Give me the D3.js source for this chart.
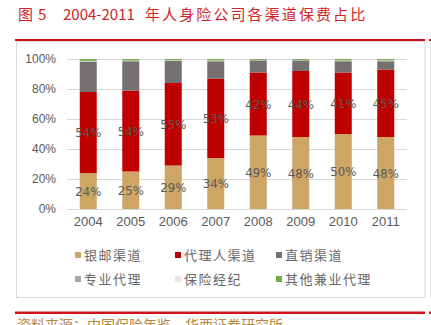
<!DOCTYPE html>
<html>
<head>
<meta charset="utf-8">
<script src="https://cdn.jsdelivr.net/npm/d3@7"></script>
<style>
  html, body { margin: 0; padding: 0; background: #fff; }
  svg { display: block; }
</style>
</head>
<body>
<svg id="chart" width="431" height="325"></svg>
<script>
// Years on the x axis
const years = ["2004", "2005", "2006", "2007", "2008", "2009", "2010", "2011"];

// Premium share by channel (%), one array per channel
const bankPost   = [24, 25, 29, 34, 49, 48, 50, 48];          // 银邮渠道
const agents     = [54, 54, 55, 53, 42, 44, 41, 45];          // 代理人渠道
const direct     = [20, 19.5, 14.7, 11.5, 8, 6.9, 7.5, 5.5];  // 直销渠道
const proAgency  = [0.5, 0.3, 0.3, 0.5, 0.3, 0.4, 0.4, 0.5];  // 专业代理
const brokers    = [0.3, 0.2, 0.2, 0.2, 0.1, 0.1, 0.2, 0.2];  // 保险经纪
const otherAgcy  = [1.2, 1.0, 0.8, 0.8, 0.6, 0.6, 0.9, 0.8];  // 其他兼业代理

const seriesNames = ["银邮渠道", "代理人渠道", "直销渠道", "专业代理", "保险经纪", "其他兼业代理"];
const seriesColors = ["#CDA564", "#C00000", "#767171", "#A6A6A6", "#E7E6E6", "#70AD47"];
const yTicks = [0, 0.2, 0.4, 0.6, 0.8, 1.0];

const seriesValues = [bankPost, agents, direct, proAgency, brokers, otherAgcy];
const rows = years.map((y, i) => {
  const r = { year: y };
  seriesNames.forEach((n, k) => { r[n] = seriesValues[k][i] / 100; });
  return r;
});

const svg = d3.select("#chart");

// Title
const title = svg.append("text")
  .attr("y", 20)
  .attr("fill", "#D2232A")
  .style("font-family", "'Noto Sans CJK SC', 'Noto Sans', sans-serif")
  .style("font-size", "15px");
title.append("tspan").attr("x", 18).text("图");
title.append("tspan").attr("x", 38).text("5");
title.append("tspan").attr("x", 63).text("2004-2011");
title.append("tspan").attr("x", 145).style("letter-spacing", "2.1px").text("年人身险公司各渠道保费占比");

// Frame around the chart area
svg.append("rect")
  .attr("x", 16.5).attr("y", 41.5)
  .attr("width", 408.5).attr("height", 256)
  .attr("fill", "#fff").attr("stroke", "#D9D9D9").attr("stroke-width", 1);
svg.append("line")
  .attr("x1", 430.5).attr("x2", 430.5).attr("y1", 41).attr("y2", 298)
  .attr("stroke", "#E6E6E6");

// Red rules above and below
[[40, 2], [312.8, 2.6]].forEach(([y, w]) => {
  svg.append("line").attr("x1", 15).attr("x2", 425).attr("y1", y).attr("y2", y)
    .attr("stroke", "#D0121B").attr("stroke-width", w);
  svg.append("line").attr("x1", 429).attr("x2", 431).attr("y1", y).attr("y2", y)
    .attr("stroke", "#D0121B").attr("stroke-width", w);
});

// Scales
const x = d3.scaleBand().domain(years).range([67, 407]).paddingInner(0.6).paddingOuter(0.3);
const y = d3.scaleLinear().domain([0, 1]).range([209, 59]);

// Gridlines
svg.append("g").selectAll("line").data(yTicks).join("line")
  .attr("x1", 67).attr("x2", 407)
  .attr("y1", d => Math.round(y(d)) + 0.5).attr("y2", d => Math.round(y(d)) + 0.5)
  .attr("stroke", "#D9D9D9").attr("stroke-width", 1);

// Y axis labels
const yAxis = d3.axisLeft(y).tickValues(yTicks).tickFormat(d3.format(".0%")).tickSize(0).tickPadding(0);
const gy = svg.append("g").attr("transform", "translate(56,0)").call(yAxis);
gy.select(".domain").remove();
gy.selectAll("text")
  .attr("fill", "#595959")
  .style("font-family", "'Liberation Sans', Arial, sans-serif")
  .style("font-size", "12px");

// X axis labels
const xAxis = d3.axisBottom(x).tickSize(0).tickPadding(0);
const gx = svg.append("g").attr("transform", "translate(0,217)").call(xAxis);
gx.select(".domain").remove();
gx.selectAll("text")
  .attr("fill", "#595959")
  .style("font-family", "'Liberation Sans', Arial, sans-serif")
  .style("font-size", "13px");

// Stacked bars
const stack = d3.stack().keys(seriesNames);
const stacked = stack(rows);
const color = d3.scaleOrdinal().domain(seriesNames).range(seriesColors);

svg.append("g").selectAll("g").data(stacked).join("g")
  .attr("fill", d => color(d.key))
  .selectAll("rect").data(d => d).join("rect")
  .attr("x", d => x(d.data.year))
  .attr("width", x.bandwidth())
  .attr("y", d => y(d[1]))
  .attr("height", d => y(d[0]) - y(d[1]));

// Value labels on the two largest channels
const labelled = stacked.slice(0, 2);
svg.append("g").selectAll("g").data(labelled).join("g")
  .selectAll("text").data(d => d).join("text")
  .attr("x", d => x(d.data.year) + x.bandwidth() / 2)
  .attr("y", d => (y(d[0]) + y(d[1])) / 2)
  .attr("dy", "0.36em")
  .attr("text-anchor", "middle")
  .attr("fill", "#595959")
  .style("font-family", "'Liberation Sans Narrow', 'DejaVu Sans Condensed', sans-serif")
  .style("font-size", "13px")
  .text(d => Math.round((d[1] - d[0]) * 100) + "%");

// Legend
const legendPos = [[75, 255], [175, 255], [276, 255], [75, 279], [175, 279], [276, 279]];
const legend = svg.append("g").selectAll("g").data(seriesNames).join("g")
  .attr("transform", (d, i) => `translate(${legendPos[i][0]},${legendPos[i][1]})`);
legend.append("rect")
  .attr("x", 0).attr("y", -3).attr("width", 6).attr("height", 6)
  .attr("fill", d => color(d));
legend.append("text")
  .attr("x", 9).attr("dy", "0.36em")
  .attr("fill", "#666666")
  .style("font-family", "'Noto Sans CJK SC', sans-serif")
  .style("font-size", "13px")
  .style("letter-spacing", "1.5px")
  .text(d => d);

// Source note
svg.append("text")
  .attr("x", 17).attr("y", 330)
  .attr("fill", "#B4873F")
  .style("font-family", "'Noto Sans CJK SC', sans-serif")
  .style("font-size", "14px")
  .text("资料来源：中国保险年鉴，华西证券研究所");
</script>
</body>
</html>
